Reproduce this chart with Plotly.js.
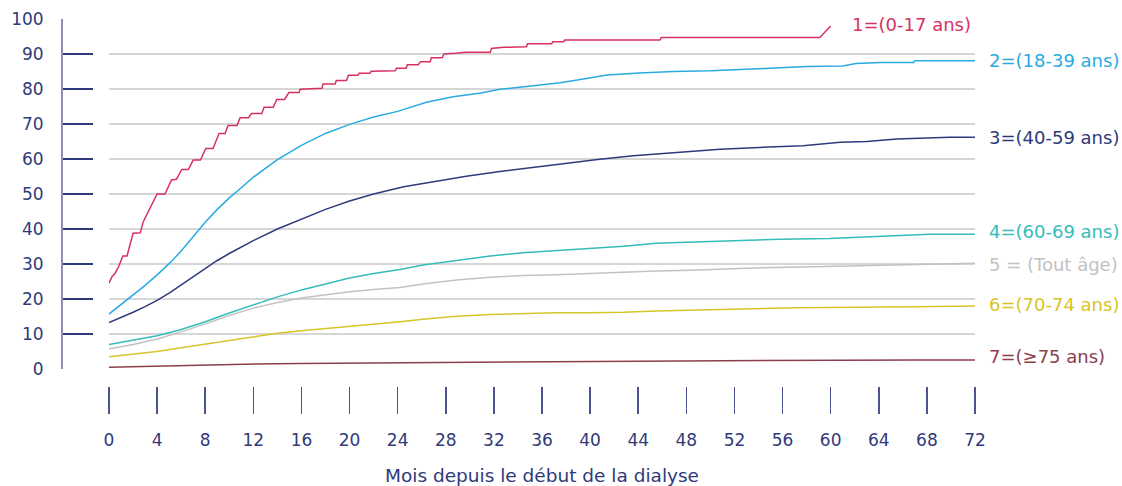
<!DOCTYPE html>
<html>
<head>
<meta charset="utf-8">
<script src="https://cdn.plot.ly/plotly-3.0.1.min.js"></script>
<style>html,body{margin:0;padding:0;background:#fff;}#chart{width:1122px;height:486px;}</style>
</head>
<body>
<div id="chart"></div>
<script>
// Series 1 : 0-17 ans (step curve)
const m1 = [0, 0.25, 0.5, 0.8, 1.15, 1.5, 2.0, 2.6, 2.85, 3.4, 4.0, 4.65, 5.2, 5.6, 6.05, 6.6, 7.0, 7.6, 8.05, 8.65, 9.15, 9.65, 9.9, 10.65, 10.9, 11.6, 11.85, 12.7, 12.9, 13.65, 13.95, 14.6, 14.95, 15.8, 15.9, 17.7, 17.8, 18.8, 18.9, 19.75, 19.9, 20.7, 20.8, 21.7, 21.8, 23.8, 23.9, 24.7, 24.8, 25.7, 25.9, 26.7, 26.8, 27.7, 27.85, 28.8, 29.7, 31.7, 31.8, 32.8, 34.7, 34.8, 36.8, 36.9, 37.8, 37.9, 45.8, 45.9, 59.1, 60.0];
const v1 = [24.5, 26.4, 27.3, 29.2, 32.3, 32.3, 38.8, 38.9, 42.1, 45.9, 50, 50, 54, 54.2, 57, 57, 59.7, 59.7, 63, 63, 67.3, 67.3, 69.6, 69.6, 71.8, 71.8, 73, 73, 74.8, 74.8, 77, 77, 79, 79, 79.9, 80.2, 81.4, 81.4, 82.4, 82.4, 83.9, 83.9, 84.5, 84.5, 85.1, 85.2, 85.9, 85.9, 86.9, 86.9, 87.8, 87.8, 88.9, 88.9, 90, 90.2, 90.5, 90.5, 91.6, 91.9, 92.1, 92.9, 92.9, 93.5, 93.5, 94, 94, 94.7, 94.7, 98];

// Series 2 : 18-39 ans
const m2 = [0, 1, 2, 3, 4, 5, 6, 7, 8, 9, 10, 11, 12, 14, 16, 18, 20, 22, 24, 26.4, 28.6, 30.8, 32.5, 35.3, 37.5, 39.7, 41.4, 44.1, 46.9, 50, 52.2, 54.9, 58.1, 61, 62.1, 64.1, 66.9, 67, 72];
const v2 = [15.7, 18.4, 21.1, 23.9, 26.9, 30.1, 33.7, 37.8, 41.9, 45.6, 48.9, 51.8, 54.8, 59.8, 63.9, 67.3, 69.9, 72.0, 73.6, 76.2, 77.8, 78.8, 79.9, 80.9, 81.8, 83, 84, 84.6, 85, 85.2, 85.6, 85.9, 86.4, 86.6, 87.3, 87.6, 87.6, 88.1, 88.1];

// Series 3 : 40-59 ans
const m3 = [0, 1, 2, 3, 4, 5, 6, 7, 8, 9, 10, 11, 12, 14, 16, 18, 20, 22, 24.5, 26.9, 29.7, 32.5, 35.3, 38, 40.8, 43.6, 46.4, 49.1, 50.8, 54.1, 57.7, 60.8, 63, 65.5, 69.9, 72];
const v3 = [13.3, 14.7, 16.2, 17.8, 19.6, 21.7, 24.0, 26.5, 28.8, 31.0, 33.0, 34.9, 36.7, 40.0, 42.9, 45.6, 48.0, 50.0, 52.1, 53.5, 55.1, 56.4, 57.6, 58.8, 59.9, 60.9, 61.6, 62.4, 62.8, 63.3, 63.8, 64.8, 65, 65.7, 66.2, 66.2];

// Series 4 : 60-69 ans
const m4 = [0, 2, 4, 6, 8, 10, 12, 14, 16, 18, 20, 22, 24.2, 26.1, 28.9, 31.7, 34.4, 37.2, 40, 42.8, 45.5, 48.3, 51.6, 55.8, 59.9, 64.1, 68.2, 72];
const v4 = [7.0, 8.2, 9.5, 11.3, 13.5, 16.0, 18.4, 20.6, 22.6, 24.4, 26.0, 27.3, 28.4, 29.7, 31.1, 32.3, 33.2, 33.8, 34.5, 35.1, 35.9, 36.2, 36.7, 37.1, 37.3, 38, 38.5, 38.5];

// Series 5 : Tout âge
const m5 = [0, 2, 4, 6, 8, 10, 12, 14, 16, 18, 20, 22, 24.2, 26.1, 28.9, 31.7, 34.4, 37.2, 40, 42.8, 45.5, 48.3, 53, 58.5, 64.1, 68.2, 72];
const v5 = [5.7, 7.0, 8.6, 10.6, 12.9, 15.3, 17.4, 19.0, 20.3, 21.3, 22.1, 22.7, 23.3, 24.3, 25.4, 26.2, 26.7, 26.9, 27.3, 27.6, 28, 28.2, 28.8, 29.2, 29.7, 30, 30.2];

// Series 6 : 70-74 ans
const m6 = [0, 2, 4, 6, 8, 10, 12, 14, 16, 18, 20, 22, 24, 26.1, 28.9, 31.7, 34.4, 37.2, 40, 42.8, 45.5, 48.3, 53, 57.2, 66.9, 72];
const v6 = [3.5, 4.2, 5.0, 6.1, 7.1, 8.1, 9.3, 10.2, 10.9, 11.5, 12.1, 12.8, 13.4, 14.2, 15.1, 15.6, 15.9, 16.1, 16.1, 16.2, 16.6, 16.8, 17.0, 17.5, 17.8, 18.0];

// Series 7 : >=75 ans
const m7 = [0, 4.8, 10.3, 15.9, 24.2, 37.2, 47.5, 67, 72];
const v7 = [0.5, 0.95, 1.3, 1.6, 1.8, 2.1, 2.3, 2.6, 2.6];

const labels = ["1=(0-17 ans)", "2=(18-39 ans)", "3=(40-59 ans)", "4=(60-69 ans)", "5 = (Tout âge)", "6=(70-74 ans)", "7=(≥75 ans)"];
const colors = ["#d8315f", "#29abe2", "#2e3a7c", "#35bcbc", "#c2c2c2", "#d7c428", "#8c3e4c"];
const xTicks = [0, 4, 8, 12, 16, 20, 24, 28, 32, 36, 40, 44, 48, 52, 56, 60, 64, 68, 72];
const yTicks = [0, 10, 20, 30, 40, 50, 60, 70, 80, 90, 100];
const xTitle = "Mois depuis le début de la dialyse";

const ms = [m1, m2, m3, m4, m5, m6, m7];
const vs = [v1, v2, v3, v4, v5, v6, v7];

const navy = "#2f3a7a";
const FONT = "'DejaVu Sans', sans-serif";

const order = [6, 5, 4, 3, 2, 1, 0];
const traces = order.map(i => ({
  x: ms[i], y: vs[i], type: "scatter", mode: "lines",
  line: {color: colors[i], width: 1.5, shape: "linear"},
  hoverinfo: "skip", showlegend: false, cliponaxis: false
}));

const yShift = [0, 0, 0, 3, -1, 2, 3];
const annotations = labels.map((t, i) => {
  const n = ms[i].length;
  const isFirst = i === 0;
  return {
    x: ms[i][n - 1], y: vs[i][n - 1], xref: "x", yref: "y",
    text: t, showarrow: false, xanchor: "left", yanchor: "middle",
    xshift: isFirst ? 19 : 12, yshift: isFirst ? 2 : yShift[i],
    font: {family: FONT, size: 18, color: colors[i]}
  };
});

const layout = {
  width: 1122, height: 486,
  margin: {l: 61, r: 147, t: 19, b: 73, pad: 0},
  paper_bgcolor: "#ffffff", plot_bgcolor: "#ffffff",
  font: {family: FONT, color: navy},
  showlegend: false,
  xaxis: {
    domain: [48 / 914, 1], range: [0, 72],
    anchor: "free", position: 27 / 394,
    tickmode: "array", tickvals: xTicks, ticktext: xTicks.map(String),
    ticks: "outside", ticklen: 27, tickwidth: 1.5, tickcolor: "#4a5290",
    showline: false, showgrid: false, zeroline: false,
    ticklabelstandoff: 12,
    tickfont: {family: FONT, size: 17, color: navy},
    title: {text: xTitle, font: {family: FONT, size: 18.5, color: navy}, standoff: 19}
  },
  yaxis: {
    domain: [44 / 394, 1], range: [0, 100],
    anchor: "free", position: 0,
    tickmode: "array", tickvals: yTicks, ticktext: yTicks.map(String),
    ticks: "inside", ticklen: 30, tickwidth: 1.5, tickcolor: navy,
    showline: true, linecolor: "#8a8fb5", linewidth: 1.5,
    showgrid: true, gridcolor: "#d6d6d6", gridwidth: 1.5,
    zeroline: false,
    ticklabelstandoff: 14,
    tickfont: {family: FONT, size: 17, color: navy}
  },
  annotations: annotations
};

Plotly.newPlot("chart", traces, layout, {displayModeBar: false, staticPlot: true});
</script>
</body>
</html>
